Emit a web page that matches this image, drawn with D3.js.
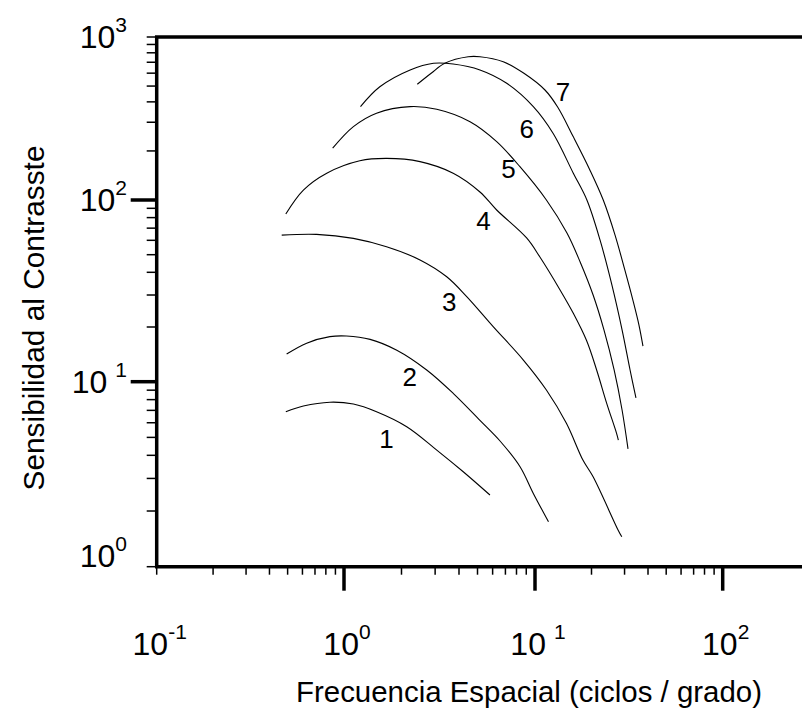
<!DOCTYPE html>
<html>
<head>
<meta charset="utf-8">
<script src="https://cdn.jsdelivr.net/npm/d3@7"></script>
<style>
  body { margin: 0; background: #fff; }
  svg { display: block; font-family: "Liberation Sans", Arial, sans-serif; }
</style>
</head>
<body>
<svg id="chart" width="802" height="715"></svg>
<script>
// curve data: [frequency, sensitivity]
const curve1 = [[0.489,6.88],[0.607,7.39],[0.841,7.75],[1.12,7.57],[1.48,6.88],[2.13,5.71],[3.06,4.27],[4.21,3.26],[5.81,2.44]];
const curve2 = [[0.494,14.2],[0.632,16.3],[0.841,17.7],[1.03,17.85],[1.37,17.1],[1.89,14.9],[2.71,11.6],[3.73,8.65],[5.15,6.18],[6.56,4.78],[8.35,3.47],[9.8,2.49],[11.8,1.75]];
const curve3 = [[0.465,64.1],[0.714,64.7],[1.12,61.5],[1.67,55.3],[2.5,46.8],[3.45,37.8],[4.39,29.4],[6.04,20.1],[8.67,13.2],[11.5,9.02],[14.7,5.96],[18.0,3.77],[20.4,3.06],[27.7,1.58],[29.0,1.45]];
const curve4 = [[0.489,83.8],[0.607,115],[0.809,146],[1.21,174],[1.67,180],[2.5,172],[3.73,146],[5.15,112],[6.3,88.1],[9.04,61.8],[10.6,48.7],[13.6,32.0],[16.0,23.8],[18.8,16.9],[21.3,11.6],[24.1,7.64],[27.2,5.26],[27.8,4.84]];
const curve5 = [[0.87,208],[1.12,282],[1.48,341],[2.22,374],[3.06,360],[4.57,302],[6.3,228],[8.34,160],[11.5,100],[14.8,65.8],[17.4,45.6],[20.4,30.0],[23.3,19.3],[26.4,11.6],[29.1,7.03],[31.3,4.33]];
const curve6 = [[1.22,374],[1.54,495],[2.22,628],[2.94,690],[3.73,683],[5.15,628],[7.11,520],[9.8,374],[12.5,256],[16.0,146],[18.9,100],[22.2,60.3],[25.7,34.0],[29.1,19.3],[32.1,11.6],[34.5,8.17]];
const curve7 = [[2.42,513],[2.86,599],[3.37,690],[4.47,757],[5.15,757],[6.82,705],[8.75,599],[11.3,473],[13.2,372],[16.0,244],[19.6,153],[23.1,100],[26.7,64.1],[30.1,41.2],[33.2,28.2],[35.8,20.5],[37.6,15.7]];
const curves = [curve1, curve2, curve3, curve4, curve5, curve6, curve7];

// curve numbers and where they sit (data coords)
const curveNames = ["1", "2", "3", "4", "5", "6", "7"];
const nameAt = [[1.67,4.94],[2.21,10.65],[3.56,27.5],[5.37,77.6],[7.26,156.5],[9.06,275],[14.1,461]];

const xMajor = [0.1, 1, 10, 100];
const xExp = ["-1", "0", "1", "2"];
const yMajor = [1, 10, 100, 1000];
const yExp = ["0", "1", "2", "3"];

const xTitle = "Frecuencia Espacial (ciclos / grado)";
const yTitle = "Sensibilidad al Contrasste";

const svg = d3.select("#chart");
const W = 802;

// the original axes are not quite even per decade, so piecewise log scales
const x = d3.scaleLog().domain(xMajor).range([156.7, 344, 535, 722.7]);
const y = d3.scaleLog().domain(yMajor).range([566.7, 381.7, 200, 37]);
const plotLeft = x(0.1), plotTop = y(1000), plotBottom = y(1);

// minor ticks
const xMinor = x.ticks().filter(d => d >= 0.1 && d <= 100);
const yMinor = y.ticks().filter(d => d >= 1 && d <= 1000);

svg.append("g").selectAll("line")
  .data(xMinor)
  .join("line")
  .attr("x1", d => x(d)).attr("x2", d => x(d))
  .attr("y1", plotBottom).attr("y2", plotBottom + 8)
  .attr("stroke", "#000").attr("stroke-width", 1.5);

svg.append("g").selectAll("line")
  .data(yMinor)
  .join("line")
  .attr("y1", d => y(d)).attr("y2", d => y(d))
  .attr("x1", plotLeft).attr("x2", plotLeft - 10)
  .attr("stroke", "#000").attr("stroke-width", 1.5);

// major ticks (not at the corners)
svg.append("g").selectAll("line")
  .data(xMajor.slice(1))
  .join("line")
  .attr("x1", d => x(d)).attr("x2", d => x(d))
  .attr("y1", plotBottom).attr("y2", plotBottom + 24)
  .attr("stroke", "#000").attr("stroke-width", 3.5);

svg.append("g").selectAll("line")
  .data(yMajor.slice(1, 3))
  .join("line")
  .attr("y1", d => y(d)).attr("y2", d => y(d))
  .attr("x1", plotLeft).attr("x2", plotLeft - 26)
  .attr("stroke", "#000").attr("stroke-width", 3.5);

// frame: top, left, bottom (right side runs off the page)
svg.append("path")
  .attr("d", `M${W + 5},${plotTop} H${plotLeft} V${plotBottom} H${W + 5}`)
  .attr("fill", "none")
  .attr("stroke", "#000")
  .attr("stroke-width", 3.5);

// tick labels 10^n
function powLabel(sel, exps) {
  sel.append("tspan").text("10");
  sel.append("tspan")
    .attr("font-size", 21)
    .attr("dy", -16)
    .attr("dx", (d, i) => exps[i] === "1" ? 8 : 0)
    .text((d, i) => exps[i]);
}

svg.append("g").selectAll("text")
  .data(xMajor)
  .join("text")
  .attr("x", d => x(d) + 3)
  .attr("y", 655)
  .attr("text-anchor", "middle")
  .attr("font-size", 32)
  .call(powLabel, xExp);

svg.append("g").selectAll("text")
  .data(yMajor)
  .join("text")
  .attr("x", 127)
  .attr("y", d => d === 1 ? y(d) : y(d) + 11)
  .attr("text-anchor", "end")
  .attr("font-size", 32)
  .call(powLabel, yExp);

// curves
const line = d3.line()
  .x(d => x(d[0]))
  .y(d => y(d[1]))
  .curve(d3.curveCatmullRom.alpha(0.5));

svg.append("g").selectAll("path")
  .data(curves)
  .join("path")
  .attr("d", line)
  .attr("fill", "none")
  .attr("stroke", "#000")
  .attr("stroke-width", 1.1);

svg.append("g").selectAll("text")
  .data(curveNames)
  .join("text")
  .attr("x", (d, i) => x(nameAt[i][0]))
  .attr("y", (d, i) => y(nameAt[i][1]) + 9.5)
  .attr("text-anchor", "middle")
  .attr("font-size", 26)
  .text(d => d);

// axis titles
svg.append("text")
  .attr("x", 529)
  .attr("y", 702)
  .attr("text-anchor", "middle")
  .attr("font-size", 30)
  .attr("textLength", 466)
  .attr("lengthAdjust", "spacingAndGlyphs")
  .text(xTitle);

svg.append("text")
  .attr("transform", "translate(44,318) rotate(-90)")
  .attr("text-anchor", "middle")
  .attr("font-size", 30)
  .attr("textLength", 345)
  .attr("lengthAdjust", "spacingAndGlyphs")
  .text(yTitle);
</script>
</body>
</html>
